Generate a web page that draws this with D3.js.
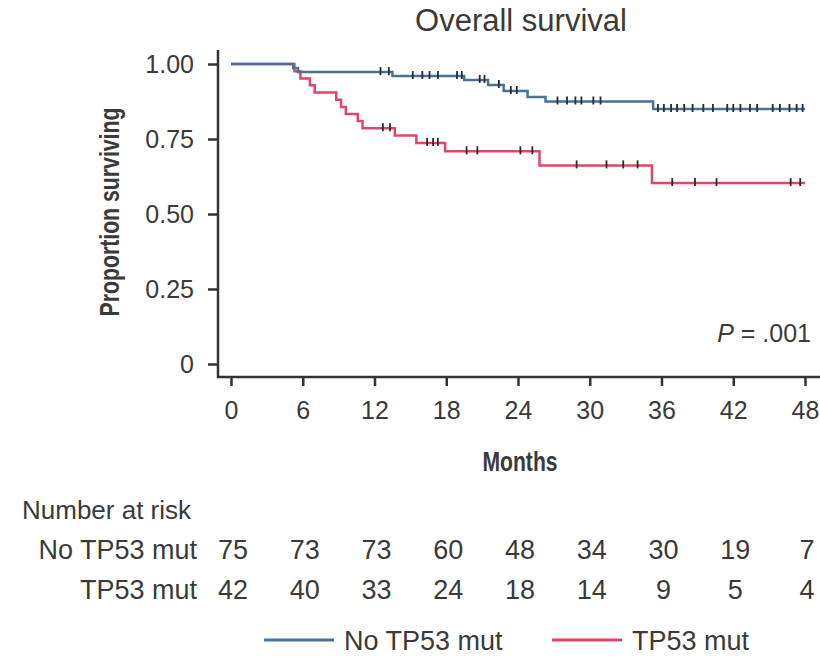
<!DOCTYPE html>
<html lang="en">
<head>
<meta charset="utf-8">
<title>Overall survival</title>
<style>
  body { margin: 0; background: #fff; }
  svg text { font-family: "Liberation Sans", Arial, Helvetica, sans-serif; fill: #3a3a3a; }
</style>
</head>
<body>
<div id="km_chart"></div>
<script src="https://d3js.org/d3.v7.min.js"></script>
<script>
// Survival steps (months, proportion surviving)
var noMutTimes = [0, 5.2, 5.6, 13.5, 19.5, 21.5, 22.8, 24.8, 26.3, 35.3, 48];
var noMutSurv  = [1.0, 0.987, 0.973, 0.96, 0.947, 0.93, 0.91, 0.89, 0.875, 0.85, 0.85];
var mutTimes = [0, 5.3, 5.8, 6.6, 7.0, 8.8, 9.2, 9.6, 10.6, 11.0, 13.7, 15.5, 17.9, 25.8, 35.2, 48];
var mutSurv  = [1.0, 0.976, 0.952, 0.929, 0.905, 0.881, 0.857, 0.833, 0.81, 0.786, 0.762, 0.737, 0.709, 0.662, 0.603, 0.603];

// Censoring marks (months)
var noMutCensor = [12.5, 13.2, 15.2, 16.0, 16.6, 17.3, 18.9, 19.3, 20.8, 21.2, 22.4, 23.4, 23.9,
                   27.3, 28.1, 28.8, 29.3, 30.3, 30.9, 35.7, 36.2, 36.8, 37.3, 37.9, 38.6, 39.5,
                   40.3, 41.5, 42.0, 42.6, 43.4, 44.0, 45.3, 45.9, 46.7, 47.3, 47.8];
var mutCensor = [12.7, 13.3, 16.4, 16.9, 17.3, 19.7, 20.6, 24.2, 25.2, 28.9, 31.4, 32.8, 34.0,
                 36.9, 38.8, 40.6, 46.8, 47.6];

// Number at risk table
var riskTimes = [0, 6, 12, 18, 24, 30, 36, 42, 48];
var riskNoMut = [75, 73, 73, 60, 48, 34, 30, 19, 7];
var riskMut   = [42, 40, 33, 24, 18, 14, 9, 5, 4];

var groupNames = ["No TP53 mut", "TP53 mut"];
var groupColors = ["#4a7299", "#e2456a"];

var yTicks = [0, 0.25, 0.5, 0.75, 1];

var W = 820, H = 658;

var svg = d3.select("#km_chart")
   .append("svg")
   .attr("width", W)
   .attr("height", H);

// Scales
var x = d3.scaleLinear().domain([0, 48]).range([231, 805]);
var y = d3.scaleLinear().domain([0, 1]).range([364, 64]);

var axisX = 218;          // y axis position
var axisY = y(0) + 13;    // x axis position

// Title
svg.append("text")
   .attr("x", 521)
   .attr("y", 31)
   .attr("text-anchor", "middle")
   .style("font-size", "31px")
   .text("Overall survival");

// Y axis
var gy = svg.append("g")
   .attr("transform", `translate(${axisX},0)`)
   .call(d3.axisLeft(y).tickValues(yTicks).tickSize(10).tickPadding(14)
      .tickFormat(d => d === 0 ? "0" : d.toFixed(2)));
gy.select(".domain").remove();
gy.selectAll("line").attr("stroke", "#333").attr("stroke-width", 2.5);
gy.selectAll("text").style("font-size", "25px").attr("fill", "#3a3a3a");

// X axis
var gx = svg.append("g")
   .attr("transform", `translate(0,${axisY})`)
   .call(d3.axisBottom(x).tickValues(riskTimes).tickSize(9).tickPadding(15));
gx.select(".domain").remove();
gx.selectAll("line").attr("stroke", "#333").attr("stroke-width", 2.5);
gx.selectAll("text").style("font-size", "25px").attr("fill", "#3a3a3a");

// Axis lines (L shape)
svg.append("path")
   .attr("d", `M${axisX},${y(1) - 14}V${axisY}H${W}`)
   .attr("fill", "none")
   .attr("stroke", "#333")
   .attr("stroke-width", 2.5);

// Axis titles (condensed bold)
svg.append("text")
   .attr("x", 520)
   .attr("y", 471)
   .attr("text-anchor", "middle")
   .attr("textLength", 75)
   .attr("lengthAdjust", "spacingAndGlyphs")
   .style("font-size", "28px")
   .style("font-weight", "bold")
   .text("Months");

svg.append("text")
   .attr("transform", "translate(119,212) rotate(-90)")
   .attr("text-anchor", "middle")
   .attr("textLength", 209)
   .attr("lengthAdjust", "spacingAndGlyphs")
   .style("font-size", "27px")
   .style("font-weight", "bold")
   .text("Proportion surviving");

// Survival curves
var series = [
   { times: noMutTimes, surv: noMutSurv, censor: noMutCensor, color: groupColors[0] },
   { times: mutTimes, surv: mutSurv, censor: mutCensor, color: groupColors[1] }
];

var line = d3.line()
   .x(d => x(d[0]))
   .y(d => y(d[1]))
   .curve(d3.curveStepAfter);

// red drawn first so blue sits on top where they overlap
series.slice().reverse().forEach(function (s) {
   var pts = s.times.map((t, i) => [t, s.surv[i]]);
   svg.append("path")
      .attr("d", line(pts))
      .attr("fill", "none")
      .attr("stroke", s.color)
      .attr("stroke-width", 2.5);
});

// Censor marks
function survAt(s, t) {
   var idx = d3.bisectRight(s.times, t) - 1;
   return s.surv[Math.max(0, idx)];
}
series.forEach(function (s) {
   svg.append("g")
      .selectAll("line")
      .data(s.censor)
      .join("line")
      .attr("x1", d => x(d))
      .attr("x2", d => x(d))
      .attr("y1", d => y(survAt(s, d)) - 5)
      .attr("y2", d => y(survAt(s, d)) + 3)
      .attr("stroke", "#2a2a2a")
      .attr("stroke-width", 1.8);
});

// P value
var pText = svg.append("text")
   .attr("x", 811)
   .attr("y", 342)
   .attr("text-anchor", "end")
   .style("font-size", "25px");
pText.append("tspan").style("font-style", "italic").text("P");
pText.append("tspan").text(" = .001");

// Number at risk table
svg.append("text")
   .attr("x", 22)
   .attr("y", 519)
   .style("font-size", "26px")
   .text("Number at risk");

[riskNoMut, riskMut].forEach(function (row, r) {
   var rowY = 559 + r * 40;
   svg.append("text")
      .attr("x", 197)
      .attr("y", rowY)
      .attr("text-anchor", "end")
      .style("font-size", "27px")
      .text(groupNames[r]);
   svg.append("g")
      .selectAll("text")
      .data(row)
      .join("text")
      .attr("x", (d, i) => x(riskTimes[i]) + 2)
      .attr("y", rowY)
      .attr("text-anchor", "middle")
      .style("font-size", "27px")
      .text(d => d);
});

// Legend
var legendX = [264, 552];
groupNames.forEach(function (name, i) {
   var g = svg.append("g").attr("transform", `translate(${legendX[i]},640)`);
   g.append("line")
      .attr("x1", 0).attr("x2", 70)
      .attr("stroke", groupColors[i])
      .attr("stroke-width", 3);
   g.append("text")
      .attr("x", 80)
      .attr("y", 10)
      .style("font-size", "27px")
      .text(name);
});
</script>
</body>
</html>
